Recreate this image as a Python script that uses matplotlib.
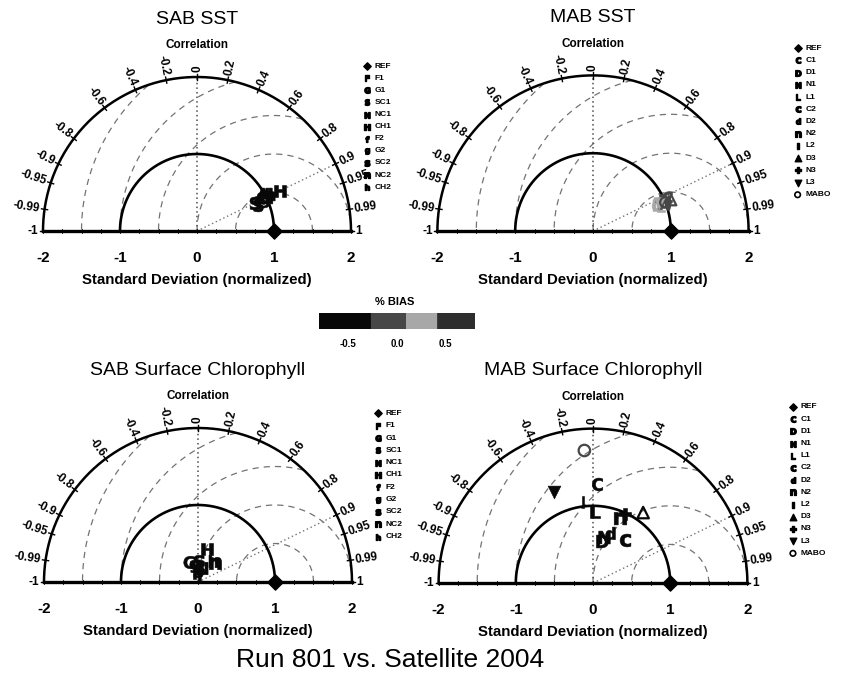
import numpy as np
import matplotlib
matplotlib.use("Agg")
import matplotlib.pyplot as plt
from matplotlib.colors import LinearSegmentedColormap, Normalize
from matplotlib.cm import ScalarMappable

plt.rcParams['font.family'] = ['Liberation Sans', 'DejaVu Sans']

# ---------------- data ----------------
corr_ticks = [-1, -0.99, -0.95, -0.9, -0.8, -0.6, -0.4, -0.2, 0, 0.2, 0.4, 0.6, 0.8, 0.9, 0.95, 0.99, 1]
corr_labels = ['-1', '-0.99', '-0.95', '-0.9', '-0.8', '-0.6', '-0.4', '-0.2', '0',
               '0.2', '0.4', '0.6', '0.8', '0.9', '0.95', '0.99', '1']
std_ticks = [-2, -1, 0, 1, 2]
rms_radii = [0.5, 1.0, 1.5, 2.0, 2.5]
ref_std = 1.0

# SAB models
sab_names = ['F1', 'G1', 'SC1', 'NC1', 'CH1', 'F2', 'G2', 'SC2', 'NC2', 'CH2']
sab_marks = ['F', 'G', 'S', 'N', 'H', 'f', 'g', 's', 'n', 'h']

sab_sst_std = [0.92, 0.97, 0.86, 1.02, 1.20, 0.90, 0.95, 0.84, 1.00, 1.06]
sab_sst_corr = [0.91, 0.89, 0.92, 0.88, 0.90, 0.89, 0.91, 0.90, 0.90, 0.89]
sab_sst_bias = [-0.6, -0.5, -0.6, -0.55, -0.4, -0.6, -0.5, -0.6, -0.55, -0.5]

sab_chl_std = [0.12, 0.29, 0.14, 0.19, 0.45, 0.10, 0.21, 0.27, 0.33, 0.34]
sab_chl_corr = [-0.16, -0.42, 0.0, 0.27, 0.27, 0.29, -0.24, 0.07, 0.66, 0.58]
sab_chl_bias = [-0.6, -0.6, -0.6, -0.6, -0.6, -0.6, -0.6, -0.6, -0.6, -0.6]

# MAB models
mab_names = ['C1', 'D1', 'N1', 'L1', 'C2', 'D2', 'N2', 'L2', 'D3', 'N3', 'L3', 'MABO']
mab_marks = [r'$\mathbf{C}$', r'$\mathbf{D}$', r'$\mathbf{N}$', r'$\mathbf{L}$',
             r'$\mathbf{c}$', r'$\mathbf{d}$', r'$\mathbf{n}$', r'$\mathbf{l}$',
             '^', 'P', 'v', 'o']
mab_open = [False, False, False, False, False, False, False, False, True, False, False, True]

mab_sst_std = [0.95, 0.90, 1.00, 0.93, 1.05, 0.88, 0.98, 1.02, 1.08, 0.96, 0.92, 1.00]
mab_sst_corr = [0.92, 0.93, 0.92, 0.94, 0.91, 0.92, 0.93, 0.94, 0.93, 0.91, 0.92, 0.93]
mab_sst_bias = [-0.1, 0.2, 0.0, 0.25, -0.05, 0.15, 0.0, 0.05, -0.1, -0.1, 0.1, 0.0]

mab_chl_std = [1.28, 0.55, 0.62, 0.92, 0.69, 0.68, 0.91, 1.06, 1.12, 0.98, 1.28, 1.72]
mab_chl_corr = [0.04, 0.21, 0.24, 0.03, 0.60, 0.33, 0.38, -0.12, 0.58, 0.42, -0.39, -0.065]
mab_chl_bias = [-0.5, -0.5, -0.5, -0.5, -0.5, -0.5, -0.5, -0.5, -0.5, -0.5, -0.5, 0.0]

bias_ticks = [-0.5, 0.0, 0.5]
bias_ticklabels = ['-0.5', '0.0', '0.5']

# ---------------- style ----------------
W, H = 851, 683
fig = plt.figure(figsize=(W / 100, H / 100), dpi=100)
fig.patch.set_facecolor('white')

cmap = LinearSegmentedColormap.from_list('bias', [
    (0.0, '#080808'), (0.33, '#080808'), (0.335, '#474747'), (0.555, '#474747'),
    (0.56, '#a8a8a8'), (0.755, '#a8a8a8'), (0.76, '#2e2e2e'), (1.0, '#2e2e2e')], N=512)
norm = Normalize(vmin=-0.8, vmax=0.8)


def make_panel(ox, oy, s):
    x0, x1, y0, y1 = -2.6, 2.95, -0.95, 2.95
    left = ox + x0 * s
    top = oy - y1 * s
    w = (x1 - x0) * s
    h = (y1 - y0) * s
    ax = fig.add_axes([left / W, 1 - (top + h) / H, w / W, h / H])
    ax.set_xlim(x0, x1)
    ax.set_ylim(y0, y1)
    ax.axis('off')
    ax.patch.set_alpha(0)
    return ax


def skeleton(ax, title):
    th = np.linspace(0, np.pi, 300)
    # RMS arcs centred on REF
    for r in rms_radii:
        t = np.linspace(0, np.pi, 400)
        xs = ref_std + r * np.cos(t)
        ys = r * np.sin(t)
        inside = xs ** 2 + ys ** 2 <= 4.0 + 1e-9
        xs = np.where(inside, xs, np.nan)
        ys = np.where(inside, ys, np.nan)
        ax.plot(xs, ys, color='0.45', ls=(0, (5, 4)), lw=0.9)
    # correlation 0 and 0.9 lines
    ax.plot([0, 0], [0, 2], color='0.3', ls=(0, (1, 2)), lw=1.1)
    a9 = np.arccos(0.9)
    ax.plot([0, 2 * np.cos(a9)], [0, 2 * np.sin(a9)], color='0.45', ls=(0, (1, 2)), lw=1.0)
    # std circles
    ax.plot(2 * np.cos(th), 2 * np.sin(th), color='k', lw=1.8)
    ax.plot(np.cos(th), np.sin(th), color='k', lw=1.9)
    ax.plot([-2, 2], [0, 0], color='k', lw=2.4)
    for v in np.arange(-2, 2.01, 0.25):
        ax.plot([v, v], [-0.03, 0.03], color='k', lw=0.6)
    # correlation ticks & labels
    for c, lab in zip(corr_ticks, corr_labels):
        a = np.arccos(c)
        ax.plot([1.96 * np.cos(a), 2.04 * np.cos(a)], [1.96 * np.sin(a), 2.04 * np.sin(a)],
                color='k', lw=1.0)
        deg = np.degrees(a)
        r = 2.06
        if deg <= 90.01:
            ax.text(r * np.cos(a), r * np.sin(a), lab, rotation=deg, rotation_mode='anchor',
                    ha='left', va='center', fontsize=8.5, fontweight='bold')
        else:
            ax.text(r * np.cos(a), r * np.sin(a), lab, rotation=deg - 180, rotation_mode='anchor',
                    ha='right', va='center', fontsize=8.5, fontweight='bold')
    for v in std_ticks:
        ax.text(v, -0.35, f'{v}', ha='center', va='center', fontsize=11, fontweight='bold')
    ax.text(0, -0.63, 'Standard Deviation (normalized)', ha='center', va='center',
            fontsize=10.8, fontweight='bold')
    ax.text(0, 2.41, 'Correlation', ha='center', va='center', fontsize=8.5, fontweight='bold')
    ax.text(0, 2.75, title, ha='center', va='center', fontsize=14)
    ax.scatter([ref_std], [0], marker='D', s=60, color='k', zorder=5, clip_on=False)


def plot_models(ax, marks, stds, corrs, biases, opens=None, size=75):
    stds = np.asarray(stds)
    corrs = np.asarray(corrs)
    xs = stds * corrs
    ys = stds * np.sqrt(1 - corrs ** 2)
    for i, m in enumerate(marks):
        mk = m if (m.startswith('$') or len(m) > 1 or m in '^vPo') else r'$\mathbf{%s}$' % m
        col = cmap(norm(biases[i]))
        if opens is not None and opens[i]:
            ax.scatter([xs[i]], [ys[i]], marker=mk, s=size * 0.8, facecolors='none',
                       edgecolors=[col], linewidths=1.6, zorder=6)
        else:
            ax.scatter([xs[i]], [ys[i]], marker=mk, s=size, c=[biases[i]], cmap=cmap, norm=norm,
                       linewidths=0.4, edgecolors=[col], zorder=6)


def legend(ax, x_sym, x_txt, y_top, step, marks, names):
    ax.scatter([x_sym], [y_top], marker='D', s=14, color='k', clip_on=False)
    ax.text(x_txt, y_top, 'REF', fontsize=6, fontweight='bold', va='center', ha='left')
    for i, (m, n) in enumerate(zip(marks, names)):
        y = y_top - (i + 1) * step
        if m in ('^', 'v', 'P'):
            ax.scatter([x_sym], [y], marker=m, s=22, color='k', clip_on=False)
        elif m == 'o':
            ax.scatter([x_sym], [y], marker='o', s=16, facecolors='none', edgecolors='k',
                       linewidths=1.2, clip_on=False)
        else:
            mk = m if m.startswith('$') else r'$\mathbf{%s}$' % m
            ax.scatter([x_sym], [y], marker=mk, s=18, color='k', clip_on=False)
        ax.text(x_txt, y, n, fontsize=6, fontweight='bold', va='center', ha='left')


# Top-left: SAB SST
ax1 = make_panel(197, 231, 77.0)
skeleton(ax1, 'SAB SST')
plot_models(ax1, sab_marks, sab_sst_std, sab_sst_corr, sab_sst_bias, size=85)
legend(ax1, 2.21, 2.31, 2.14, 0.157, sab_marks, sab_names)

# Top-right: MAB SST
ax2 = make_panel(593, 231, 77.8)
skeleton(ax2, 'MAB SST')
plot_models(ax2, mab_marks, mab_sst_std, mab_sst_corr, mab_sst_bias, mab_open, size=70)
legend(ax2, 2.63, 2.73, 2.35, 0.157, mab_marks, mab_names)

# Bottom-left: SAB chlorophyll
ax3 = make_panel(198, 582, 77.0)
skeleton(ax3, 'SAB Surface Chlorophyll')
plot_models(ax3, sab_marks, sab_chl_std, sab_chl_corr, sab_chl_bias, size=80)
legend(ax3, 2.34, 2.44, 2.19, 0.16, sab_marks, sab_names)

# Bottom-right: MAB chlorophyll
ax4 = make_panel(593, 583, 77.2)
skeleton(ax4, 'MAB Surface Chlorophyll')
plot_models(ax4, mab_marks, mab_chl_std, mab_chl_corr, mab_chl_bias, mab_open, size=85)
legend(ax4, 2.59, 2.69, 2.28, 0.158, mab_marks, mab_names)

# colorbar
cax = fig.add_axes([319 / W, 1 - 329 / H, (475 - 319) / W, 16 / H])
cb = fig.colorbar(ScalarMappable(norm=norm, cmap=cmap), cax=cax, orientation='horizontal')
cb.set_ticks(bias_ticks)
cb.set_ticklabels(bias_ticklabels)
cb.ax.tick_params(length=0, labelsize=7, pad=7)
for t in cb.ax.get_xticklabels():
    t.set_fontweight('bold')
cb.outline.set_visible(False)
fig.text(395 / W, 1 - 302 / H, '% BIAS', ha='center', va='center', fontsize=8, fontweight='bold')

fig.text(390 / W, 1 - 660 / H, 'Run 801 vs. Satellite 2004', ha='center', va='center', fontsize=19)

fig.savefig('out.png', dpi=100, facecolor='white')
